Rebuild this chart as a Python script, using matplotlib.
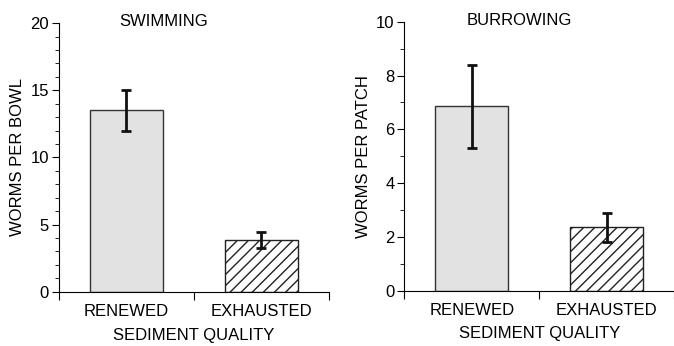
import numpy as np
import matplotlib.pyplot as plt

plt.rcParams['font.family'] = ['Liberation Sans', 'DejaVu Sans']

categories = ['RENEWED', 'EXHAUSTED']

swim_mean = [13.5, 3.85]
swim_err = [1.55, 0.6]

burrow_mean = [6.85, 2.35]
burrow_err = [1.55, 0.55]

fig = plt.figure(figsize=(6.74, 3.46), dpi=100)
ax1 = fig.add_axes([0.087, 0.157, 0.401, 0.776])
ax2 = fig.add_axes([0.600, 0.160, 0.400, 0.777])


def panel(ax, means, errs, ymax, major, title, tx, ylabel):
    x = np.arange(len(categories))
    ax.bar(x[0], means[0], 0.54, color='#e2e2e2', edgecolor='#333333', lw=1.0)
    ax.bar(x[1], means[1], 0.54, color='white', edgecolor='#222222', lw=1.0,
           hatch='///')
    ax.errorbar(x, means, yerr=errs, fmt='none', ecolor='#111111',
                elinewidth=2, capsize=3.5, capthick=2)
    ax.set_xlim(-0.5, 1.5)
    ax.set_ylim(0, ymax)
    ax.set_yticks(np.arange(0, ymax + 0.1, major))
    ax.set_yticks(np.arange(0, ymax + 0.1, 1), minor=True)
    ax.set_xticks([-0.5, 0.5, 1.5])
    ax.set_xticklabels([])
    ax.set_xticks(x, minor=True)
    ax.set_xticklabels(categories, minor=True)
    ax.tick_params(axis='x', which='minor', length=0, pad=9, labelsize=12)
    ax.tick_params(axis='x', which='major', length=6, direction='out')
    ax.tick_params(axis='y', which='major', length=5, labelsize=12, pad=2)
    ax.tick_params(axis='y', which='minor', length=3)
    for s in ['top', 'right']:
        ax.spines[s].set_visible(False)
    ax.text(tx, 1.005, title, transform=ax.transAxes, ha='center',
            va='center', fontsize=12)
    ax.set_ylabel(ylabel, fontsize=12, labelpad=4)
    ax.set_xlabel('SEDIMENT QUALITY', fontsize=12, labelpad=6)


panel(ax1, swim_mean, swim_err, 20, 5, 'SWIMMING', 0.39, 'WORMS PER BOWL')
panel(ax2, burrow_mean, burrow_err, 10, 2, 'BURROWING', 0.426, 'WORMS PER PATCH')

fig.savefig('out.png', dpi=100)
